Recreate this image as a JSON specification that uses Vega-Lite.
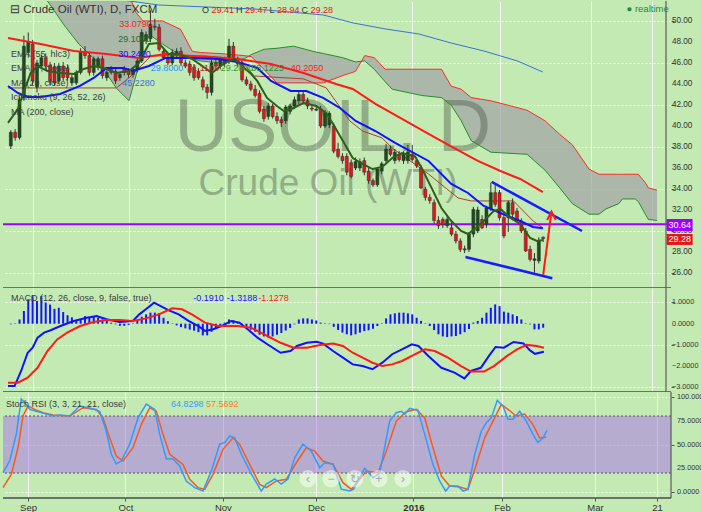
{
"$schema": "https://vega.github.io/schema/vega-lite/v6.json",
"background": "#c3eab3",
"padding": 0,
"spacing": 0,
"bounds": "flush",
"config": {
 "font": "Liberation Sans",
 "view": {"stroke": null, "fill": "#c3eab3"},
 "axis": {"labelFont": "Liberation Sans", "labelColor": "#333333", "labelFontSize": 9, "tickColor": "#555555", "tickSize": 3, "labelPadding": 1, "domain": false, "title": null, "labelLimit": 40},
 "concat": {"spacing": 0},
 "text": {"font": "Liberation Sans"}
},
"datasets": {
 "yt_main": [{"v":26},{"v":28},{"v":30},{"v":32},{"v":34},{"v":36},{"v":38},{"v":40},{"v":42},{"v":44},{"v":46},{"v":48},{"v":50}],
 "yt_macd": [{"v":1},{"v":0},{"v":-1},{"v":-2},{"v":-3}],
 "yt_st": [{"v":0},{"v":25},{"v":50},{"v":75},{"v":100}],
 "ohlc": [
 {"i":-5,"o":38.1,"h":39.6,"l":37.8,"c":39.4},{"i":-4,"o":39.4,"h":39.7,"l":38.6,"c":38.9},{"i":-3,"o":38.9,"h":42.8,"l":38.7,"c":42.5},{"i":-2,"o":42.7,"h":48.6,"l":42.4,"c":47.6},{"i":-1,"o":47.0,"h":48.9,"l":46.5,"c":48.0},
 {"i":0,"o":47.8,"h":48.2,"l":43.9,"c":44.3},{"i":1,"o":43.7,"h":46.3,"l":43.2,"c":46.0},{"i":2,"o":45.7,"h":46.8,"l":45.4,"c":46.5},{"i":3,"o":46.5,"h":46.9,"l":45.4,"c":45.7},{"i":4,"o":45.8,"h":46.1,"l":43.9,"c":44.2},
 {"i":5,"o":45.6,"h":46.0,"l":43.8,"c":44.1},{"i":6,"o":44.3,"h":46.0,"l":44.0,"c":45.7},{"i":7,"o":45.7,"h":46.1,"l":44.3,"c":44.6},{"i":8,"o":45.5,"h":45.8,"l":44.3,"c":44.6},{"i":9,"o":44.1,"h":44.9,"l":43.8,"c":44.6},
 {"i":10,"o":44.1,"h":45.3,"l":43.9,"c":45.1},{"i":11,"o":45.1,"h":47.4,"l":44.9,"c":47.1},{"i":12,"o":47.1,"h":47.6,"l":46.4,"c":46.7},{"i":13,"o":46.7,"h":47.0,"l":44.8,"c":45.1},{"i":14,"o":45.1,"h":46.6,"l":44.8,"c":46.4},
 {"i":15,"o":45.6,"h":46.6,"l":45.3,"c":46.4},{"i":16,"o":46.4,"h":46.7,"l":44.5,"c":44.8},{"i":17,"o":44.6,"h":45.3,"l":44.3,"c":45.1},{"i":18,"o":45.4,"h":45.7,"l":44.9,"c":45.1},{"i":19,"o":45.2,"h":45.5,"l":44.0,"c":44.3},
 {"i":20,"o":44.6,"h":45.1,"l":44.3,"c":44.9},{"i":21,"o":45.4,"h":45.7,"l":44.8,"c":45.1},{"i":22,"o":45.2,"h":45.5,"l":44.6,"c":44.9},{"i":23,"o":44.9,"h":45.6,"l":44.6,"c":45.4},{"i":24,"o":45.4,"h":46.5,"l":45.1,"c":46.2},
 {"i":25,"o":46.2,"h":49.2,"l":46.0,"c":48.9},{"i":26,"o":48.1,"h":49.0,"l":47.8,"c":48.7},{"i":27,"o":48.3,"h":51.0,"l":48.0,"c":49.7},{"i":28,"o":49.5,"h":50.2,"l":49.1,"c":49.4},{"i":29,"o":49.4,"h":49.7,"l":47.1,"c":47.3},
 {"i":30,"o":47.1,"h":47.5,"l":46.3,"c":46.5},{"i":31,"o":46.5,"h":46.9,"l":45.8,"c":46.0},{"i":32,"o":46.0,"h":47.3,"l":45.8,"c":47.0},{"i":33,"o":46.7,"h":47.4,"l":46.4,"c":47.1},{"i":34,"o":47.1,"h":47.5,"l":45.8,"c":46.0},
 {"i":35,"o":46.0,"h":46.3,"l":45.5,"c":45.7},{"i":36,"o":45.9,"h":46.2,"l":44.8,"c":45.1},{"i":37,"o":45.6,"h":45.9,"l":44.3,"c":44.6},{"i":38,"o":45.2,"h":45.5,"l":44.4,"c":44.6},{"i":39,"o":44.4,"h":44.7,"l":43.4,"c":43.7},
 {"i":40,"o":43.7,"h":44.0,"l":42.6,"c":43.2},{"i":41,"o":43.2,"h":46.3,"l":42.9,"c":46.0},{"i":42,"o":46.0,"h":46.4,"l":45.4,"c":45.7},{"i":43,"o":45.7,"h":46.6,"l":45.4,"c":46.4},{"i":44,"o":45.9,"h":46.6,"l":45.6,"c":46.4},
 {"i":45,"o":46.2,"h":48.3,"l":45.9,"c":47.6},{"i":46,"o":47.6,"h":48.0,"l":46.1,"c":46.4},{"i":47,"o":46.4,"h":46.6,"l":45.6,"c":45.9},{"i":48,"o":46.0,"h":46.2,"l":44.2,"c":44.4},{"i":49,"o":44.4,"h":44.7,"l":43.8,"c":44.0},
 {"i":50,"o":44.0,"h":44.3,"l":43.3,"c":43.5},{"i":51,"o":43.5,"h":43.9,"l":42.7,"c":42.9},{"i":52,"o":43.1,"h":43.4,"l":41.2,"c":41.4},{"i":53,"o":41.6,"h":41.9,"l":40.4,"c":40.7},{"i":54,"o":40.9,"h":42.2,"l":40.6,"c":41.9},
 {"i":55,"o":41.9,"h":42.1,"l":40.7,"c":40.9},{"i":56,"o":40.9,"h":41.3,"l":40.2,"c":40.5},{"i":57,"o":40.6,"h":40.9,"l":39.9,"c":40.3},{"i":58,"o":40.5,"h":42.0,"l":40.2,"c":41.8},{"i":59,"o":41.4,"h":42.1,"l":41.1,"c":41.9},
 {"i":60,"o":41.9,"h":42.8,"l":41.6,"c":42.5},{"i":61,"o":42.4,"h":43.4,"l":42.1,"c":43.0},{"i":62,"o":43.0,"h":43.3,"l":42.1,"c":42.4},{"i":63,"o":42.4,"h":42.7,"l":41.6,"c":41.9},{"i":64,"o":41.7,"h":41.9,"l":41.4,"c":41.6},
 {"i":65,"o":41.6,"h":41.8,"l":41.4,"c":41.5},{"i":66,"o":41.6,"h":41.9,"l":39.8,"c":40.0},{"i":67,"o":40.0,"h":41.5,"l":39.8,"c":41.3},{"i":68,"o":40.1,"h":41.4,"l":39.8,"c":41.2},{"i":69,"o":40.0,"h":40.3,"l":37.4,"c":37.6},
 {"i":70,"o":37.8,"h":38.4,"l":36.9,"c":37.1},{"i":71,"o":37.1,"h":37.4,"l":36.4,"c":36.7},{"i":72,"o":37.1,"h":37.4,"l":35.3,"c":35.6},{"i":73,"o":36.5,"h":36.8,"l":35.0,"c":35.2},{"i":74,"o":36.0,"h":37.0,"l":35.8,"c":36.6},
 {"i":75,"o":36.0,"h":36.9,"l":35.7,"c":36.6},{"i":76,"o":36.7,"h":37.0,"l":35.3,"c":35.6},{"i":77,"o":35.7,"h":36.0,"l":34.5,"c":34.8},{"i":78,"o":34.8,"h":35.0,"l":34.2,"c":34.4},{"i":79,"o":34.4,"h":36.1,"l":34.2,"c":35.9},
 {"i":80,"o":35.7,"h":36.6,"l":35.4,"c":36.4},{"i":81,"o":36.7,"h":38.3,"l":36.4,"c":37.8},{"i":82,"o":37.8,"h":38.1,"l":37.1,"c":37.3},{"i":83,"o":36.7,"h":37.8,"l":36.4,"c":37.5},{"i":84,"o":37.3,"h":37.6,"l":36.6,"c":36.8},
 {"i":85,"o":36.7,"h":37.6,"l":36.4,"c":37.3},{"i":86,"o":36.7,"h":38.2,"l":36.4,"c":37.5},{"i":87,"o":37.3,"h":38.2,"l":36.6,"c":36.8},{"i":88,"o":36.7,"h":37.0,"l":36.0,"c":36.2},{"i":89,"o":36.0,"h":36.3,"l":34.0,"c":34.1},
 {"i":90,"o":33.97,"h":34.2,"l":32.9,"c":33.2},{"i":91,"o":33.2,"h":33.5,"l":32.6,"c":32.9},{"i":92,"o":32.7,"h":33.0,"l":30.7,"c":31.0},{"i":93,"o":31.0,"h":31.4,"l":30.2,"c":30.5},{"i":94,"o":31.1,"h":31.3,"l":30.3,"c":30.6},
 {"i":95,"o":30.5,"h":31.5,"l":30.3,"c":31.1},{"i":96,"o":30.3,"h":30.9,"l":29.5,"c":29.7},{"i":97,"o":29.7,"h":30.0,"l":28.8,"c":29.05},{"i":98,"o":29.05,"h":29.3,"l":28.0,"c":28.25},{"i":99,"o":28.2,"h":28.6,"l":27.9,"c":28.3},
 {"i":100,"o":28.25,"h":29.9,"l":28.0,"c":29.7},{"i":101,"o":29.7,"h":32.3,"l":29.4,"c":32.06},{"i":102,"o":30.0,"h":32.3,"l":29.8,"c":32.0},{"i":103,"o":31.1,"h":31.5,"l":30.2,"c":30.3},{"i":104,"o":30.6,"h":32.4,"l":30.3,"c":32.2},
 {"i":105,"o":32.1,"h":34.6,"l":31.9,"c":33.65},{"i":106,"o":33.65,"h":34.4,"l":32.3,"c":32.54},{"i":107,"o":33.65,"h":33.9,"l":31.0,"c":31.27},{"i":108,"o":31.27,"h":31.5,"l":29.3,"c":29.52},{"i":109,"o":31.27,"h":32.9,"l":29.9,"c":32.7},
 {"i":110,"o":32.7,"h":33.1,"l":31.3,"c":31.6},{"i":111,"o":31.9,"h":32.2,"l":30.8,"c":30.95},{"i":112,"o":30.95,"h":31.2,"l":29.8,"c":30.0},{"i":113,"o":30.0,"h":30.3,"l":28.0,"c":28.1},{"i":114,"o":28.25,"h":28.6,"l":27.1,"c":27.3},
 {"i":115,"o":27.2,"h":27.9,"l":26.03,"c":27.35},{"i":116,"o":27.14,"h":29.4,"l":26.9,"c":29.05},{"i":117,"o":29.41,"h":29.47,"l":28.94,"c":29.28}
 ],
 "cloud": [
 {"i":-5.64,"a":54,"b":54},{"i":3.4,"a":51.9,"b":54},{"i":7.4,"a":49.5,"b":54},{"i":10.6,"a":47.8,"b":54},{"i":15.8,"a":45.7,"b":54},{"i":19.2,"a":43.6,"b":54},{"i":22.1,"a":42.4,"b":52.5},{"i":23.7,"a":44.8,"b":50.8},{"i":25.3,"a":48.1,"b":50.0},{"i":27.1,"a":48.6,"b":50.0},{"i":29.8,"a":47.8,"b":50.0},{"i":33.9,"a":46.7,"b":49.2},{"i":36.6,"a":46.4,"b":47.1},{"i":38.4,"a":46.2,"b":47.0},{"i":42.9,"a":46.0,"b":46.9},{"i":48.5,"a":46.4,"b":46.7},{"i":50.1,"a":46.8,"b":46.6},{"i":53,"a":47.3,"b":45.4},{"i":56,"a":47.4,"b":44.1},{"i":59.8,"a":47.6,"b":44.1},{"i":64.3,"a":47.1,"b":44.1},{"i":66.6,"a":46.9,"b":44.1},{"i":71.1,"a":46.5,"b":44.8},{"i":74,"a":46.1,"b":45.2},{"i":76.1,"a":46.2,"b":46.7},{"i":78.3,"a":45.4,"b":46.5},{"i":80.8,"a":44.2,"b":45.4},{"i":82.4,"a":43.5,"b":45.4},{"i":89.2,"a":42.9,"b":45.4},{"i":93.7,"a":42.7,"b":45.4},{"i":95.9,"a":42.0,"b":43.8},{"i":98.2,"a":40.5,"b":43.5},{"i":100.5,"a":38.6,"b":42.7},{"i":105,"a":37.5,"b":42.4},{"i":113.3,"a":37.3,"b":41.5},{"i":117.4,"a":35.8,"b":40.5},{"i":120.8,"a":34.1,"b":39.2},{"i":123.7,"a":32.6,"b":38.2},{"i":127.5,"a":31.6,"b":35.9},{"i":129.8,"a":31.6,"b":35.4},{"i":131.4,"a":32.1,"b":35.4},{"i":134.3,"a":32.6,"b":35.4},{"i":135.2,"a":33.05,"b":35.4},{"i":138.1,"a":33.05,"b":35.4},{"i":138.8,"a":32.8,"b":35.4},{"i":140.4,"a":31.6,"b":34.6},{"i":141.1,"a":31.1,"b":34.1},{"i":143.1,"a":31.0,"b":33.9}
 ],
 "ema7": [
 {"i":-5.64,"v":40.29},{"i":-3.39,"v":41.62},{"i":-1.81,"v":43.52},{"i":-0.45,"v":45.05},{"i":1.13,"v":45.71},{"i":3.39,"v":45.24},{"i":6.32,"v":45.05},{"i":9.48,"v":44.95},{"i":11.74,"v":45.43},{"i":14.0,"v":45.71},{"i":16.25,"v":45.52},{"i":19.19,"v":45.05},{"i":22.12,"v":45.24},{"i":24.38,"v":46.0},{"i":26.64,"v":47.81},{"i":28.89,"v":47.9},{"i":31.15,"v":46.86},{"i":33.41,"v":46.86},{"i":36.57,"v":46.38},{"i":39.5,"v":45.52},{"i":41.08,"v":45.05},{"i":44.0,"v":46.0},{"i":46.28,"v":46.38},{"i":48.53,"v":45.52},{"i":50.11,"v":44.95},{"i":51.47,"v":44.29},{"i":53.72,"v":42.67},{"i":55.98,"v":41.9},{"i":57.56,"v":41.43},{"i":59.82,"v":41.71},{"i":62.08,"v":42.19},{"i":65.01,"v":41.9},{"i":67.27,"v":41.24},{"i":68.85,"v":40.19},{"i":71.11,"v":38.57},{"i":73.36,"v":36.95},{"i":75.62,"v":36.38},{"i":77.88,"v":35.9},{"i":80.14,"v":36.1},{"i":82.39,"v":36.95},{"i":84.65,"v":37.43},{"i":87.58,"v":37.14},{"i":89.16,"v":36.0},{"i":91.42,"v":34.1},{"i":93.68,"v":32.19},{"i":95.94,"v":30.95},{"i":98.19,"v":30.0},{"i":99.77,"v":29.71},{"i":101.58,"v":30.29},{"i":103.39,"v":30.95},{"i":105.64,"v":31.9},{"i":107.22,"v":32.1},{"i":109.48,"v":31.24},{"i":111.74,"v":30.67},{"i":114.0,"v":29.33},{"i":115.58,"v":29.05},{"i":116.93,"v":29.15}
 ],
 "ma20": [
 {"i":-5.64,"v":43.81},{"i":-3.39,"v":43.14},{"i":-1.13,"v":42.76},{"i":1.81,"v":42.76},{"i":6.32,"v":43.05},{"i":10.84,"v":43.81},{"i":14.0,"v":44.57},{"i":16.93,"v":45.52},{"i":20.77,"v":45.52},{"i":23.02,"v":45.24},{"i":26.64,"v":45.71},{"i":30.47,"v":46.48},{"i":36.57,"v":46.48},{"i":42.44,"v":46.38},{"i":46.95,"v":46.1},{"i":51.47,"v":45.52},{"i":54.63,"v":44.29},{"i":59.14,"v":43.33},{"i":62.75,"v":43.33},{"i":66.59,"v":42.67},{"i":70.43,"v":41.71},{"i":74.04,"v":40.48},{"i":78.56,"v":39.52},{"i":83.07,"v":38.4},{"i":90.74,"v":36.67},{"i":95.94,"v":34.48},{"i":99.77,"v":33.62},{"i":103.39,"v":32.38},{"i":107.22,"v":31.71},{"i":111.74,"v":30.95},{"i":114.67,"v":30.38},{"i":116.93,"v":30.26}
 ],
 "ema55": [
 {"i":-5.64,"v":48.38},{"i":1.81,"v":47.81},{"i":9.48,"v":47.14},{"i":16.93,"v":46.86},{"i":24.38,"v":46.48},{"i":30.47,"v":46.86},{"i":36.57,"v":46.67},{"i":46.95,"v":46.38},{"i":54.63,"v":45.9},{"i":62.08,"v":45.05},{"i":69.53,"v":44.0},{"i":73.36,"v":43.52},{"i":78.56,"v":42.1},{"i":84.65,"v":40.67},{"i":90.74,"v":39.24},{"i":96.61,"v":37.9},{"i":102.03,"v":36.67},{"i":107.22,"v":35.71},{"i":111.74,"v":34.95},{"i":116.93,"v":33.7}
 ],
 "ma200": [
 {"i":10,"v":52.6},{"i":28.9,"v":51.52},{"i":50.8,"v":51.14},{"i":66.6,"v":50.57},{"i":73.4,"v":49.81},{"i":80.8,"v":49.24},{"i":88.5,"v":48.76},{"i":95.9,"v":47.9},{"i":103.4,"v":47.14},{"i":111.1,"v":46.19},{"i":116.9,"v":45.14}
 ],
 "kijun": [
 {"i":-5.64,"v":43.62},{"i":19.2,"v":43.62},{"i":22.6,"v":44.76},{"i":27.1,"v":46.67},{"i":39.5,"v":46.67},{"i":47.4,"v":46.38},{"i":50.8,"v":44.76},{"i":62.1,"v":44.48},{"i":67.3,"v":43.62},{"i":72.7,"v":40.48},{"i":75.6,"v":39.52},{"i":80.1,"v":38.86},{"i":82.4,"v":37.9},{"i":90.7,"v":35.43},{"i":97.5,"v":33.14},{"i":100.5,"v":32.86},{"i":110.2,"v":32.86},{"i":114.7,"v":30.95},{"i":116.9,"v":30.29}
 ],
 "trend": [
 {"seg":"upper","i":105.2,"v":34.67},{"seg":"upper","i":125.9,"v":30.0},{"seg":"lower","i":99.2,"v":27.52},{"seg":"lower","i":119.1,"v":25.5}
 ],
 "arrow": [
 {"seg":"shaft","i":117.0,"v":25.81},{"seg":"shaft","i":118.9,"v":31.84},{"seg":"head","i":117.9,"v":31.05},{"seg":"head","i":118.9,"v":31.84},{"seg":"head","i":119.9,"v":31.05}
 ],
 "hist": [
 {"i":-5,"h":-0.03},{"i":-4,"h":0.02},{"i":-3,"h":0.2},{"i":-2,"h":0.6},{"i":-1,"h":1.15},{"i":0,"h":1.3},{"i":1,"h":1.07},{"i":2,"h":1.3},{"i":3,"h":1.0},{"i":4,"h":0.9},{"i":5,"h":0.7},{"i":6,"h":0.75},{"i":7,"h":0.55},{"i":8,"h":0.4},{"i":9,"h":0.3},{"i":10,"h":0.15},{"i":11,"h":0.2},{"i":12,"h":0.36},{"i":13,"h":0.3},{"i":14,"h":0.36},{"i":15,"h":0.28},{"i":16,"h":0.2},{"i":17,"h":0.15},{"i":18,"h":0.05},{"i":19,"h":-0.03},{"i":20,"h":-0.1},{"i":21,"h":-0.1},{"i":22,"h":-0.06},{"i":23,"h":0.02},{"i":24,"h":0.15},{"i":25,"h":0.33},{"i":26,"h":0.44},{"i":27,"h":0.52},{"i":28,"h":0.52},{"i":29,"h":0.5},{"i":30,"h":0.28},{"i":31,"h":0.12},{"i":32,"h":0.02},{"i":33,"h":-0.08},{"i":34,"h":-0.16},{"i":35,"h":-0.22},{"i":36,"h":-0.28},{"i":37,"h":-0.33},{"i":38,"h":-0.4},{"i":39,"h":-0.55},{"i":40,"h":-0.55},{"i":41,"h":-0.38},{"i":42,"h":-0.2},{"i":43,"h":-0.11},{"i":44,"h":0.05},{"i":45,"h":0.2},{"i":46,"h":0.16},{"i":47,"h":0.08},{"i":48,"h":-0.05},{"i":49,"h":-0.2},{"i":50,"h":-0.28},{"i":51,"h":-0.38},{"i":52,"h":-0.52},{"i":53,"h":-0.6},{"i":54,"h":-0.65},{"i":55,"h":-0.6},{"i":56,"h":-0.52},{"i":57,"h":-0.44},{"i":58,"h":-0.32},{"i":59,"h":-0.2},{"i":60,"h":-0.03},{"i":61,"h":0.2},{"i":62,"h":0.25},{"i":63,"h":0.25},{"i":64,"h":0.2},{"i":65,"h":0.15},{"i":66,"h":0.05},{"i":67,"h":0.02},{"i":68,"h":-0.02},{"i":69,"h":-0.15},{"i":70,"h":-0.3},{"i":71,"h":-0.42},{"i":72,"h":-0.5},{"i":73,"h":-0.55},{"i":74,"h":-0.5},{"i":75,"h":-0.42},{"i":76,"h":-0.35},{"i":77,"h":-0.31},{"i":78,"h":-0.24},{"i":79,"h":-0.11},{"i":80,"h":0.02},{"i":81,"h":0.25},{"i":82,"h":0.44},{"i":83,"h":0.49},{"i":84,"h":0.52},{"i":85,"h":0.52},{"i":86,"h":0.49},{"i":87,"h":0.44},{"i":88,"h":0.28},{"i":89,"h":0.13},{"i":90,"h":0.02},{"i":91,"h":-0.11},{"i":92,"h":-0.3},{"i":93,"h":-0.5},{"i":94,"h":-0.6},{"i":95,"h":-0.63},{"i":96,"h":-0.6},{"i":97,"h":-0.58},{"i":98,"h":-0.5},{"i":99,"h":-0.4},{"i":100,"h":-0.25},{"i":101,"h":0.05},{"i":102,"h":0.13},{"i":103,"h":0.28},{"i":104,"h":0.52},{"i":105,"h":0.75},{"i":106,"h":0.91},{"i":107,"h":0.83},{"i":108,"h":0.57},{"i":109,"h":0.52},{"i":110,"h":0.44},{"i":111,"h":0.36},{"i":112,"h":0.2},{"i":113,"h":0.02},{"i":114,"h":-0.03},{"i":115,"h":-0.27},{"i":116,"h":-0.27},{"i":117,"h":-0.19}
 ],
 "macd": [
 {"i":-5.64,"v":-2.94},{"i":-4.13,"v":-2.94},{"i":-2.64,"v":-2.23},{"i":-1.13,"v":-1.37},{"i":0,"v":-1.13},{"i":1.13,"v":-0.66},{"i":2.64,"v":-0.42},{"i":4.13,"v":-0.31},{"i":6.39,"v":-0.11},{"i":9.41,"v":0.13},{"i":12.42,"v":0.28},{"i":14.67,"v":0.36},{"i":16.93,"v":0.21},{"i":19.93,"v":0.08},{"i":22.96,"v":0.13},{"i":24.45,"v":0.44},{"i":25.96,"v":0.68},{"i":27.83,"v":0.99},{"i":29.35,"v":0.83},{"i":31.22,"v":0.63},{"i":33.48,"v":0.44},{"i":35.73,"v":0.13},{"i":37.99,"v":-0.11},{"i":39.5,"v":-0.34},{"i":41.38,"v":-0.26},{"i":43.27,"v":-0.11},{"i":45.53,"v":0.13},{"i":47.4,"v":0.05},{"i":49.28,"v":-0.26},{"i":51.53,"v":-0.66},{"i":53.79,"v":-0.97},{"i":56.82,"v":-1.37},{"i":59.07,"v":-1.29},{"i":60.56,"v":-1.05},{"i":62.82,"v":-0.9},{"i":65.08,"v":-0.85},{"i":66.59,"v":-0.94},{"i":68.85,"v":-1.29},{"i":71.11,"v":-1.6},{"i":73.36,"v":-1.92},{"i":75.62,"v":-2.0},{"i":77.88,"v":-2.15},{"i":80.14,"v":-1.84},{"i":82.39,"v":-1.44},{"i":84.65,"v":-1.21},{"i":86.91,"v":-0.97},{"i":88.42,"v":-1.05},{"i":90.68,"v":-1.52},{"i":93.68,"v":-2.08},{"i":96.68,"v":-2.31},{"i":98.94,"v":-2.58},{"i":100.45,"v":-2.23},{"i":102.71,"v":-2.08},{"i":104.58,"v":-1.52},{"i":106.09,"v":-1.1},{"i":107.97,"v":-1.13},{"i":110.23,"v":-0.86},{"i":112.48,"v":-0.93},{"i":113.99,"v":-1.26},{"i":115.12,"v":-1.42},{"i":117.16,"v":-1.32}
 ],
 "signal": [
 {"i":-5.64,"v":-2.78},{"i":-3.39,"v":-2.78},{"i":-1.13,"v":-2.55},{"i":1.13,"v":-2.08},{"i":3.39,"v":-1.29},{"i":5.64,"v":-0.74},{"i":7.9,"v":-0.42},{"i":10.9,"v":-0.11},{"i":13.93,"v":0.08},{"i":16.93,"v":0.17},{"i":19.93,"v":0.17},{"i":22.96,"v":0.13},{"i":25.96,"v":0.25},{"i":28.96,"v":0.44},{"i":31.99,"v":0.73},{"i":34.24,"v":0.68},{"i":36.5,"v":0.44},{"i":39.5,"v":0.05},{"i":42.51,"v":-0.11},{"i":47.02,"v":-0.11},{"i":50.05,"v":-0.19},{"i":53.79,"v":-0.58},{"i":56.82,"v":-0.9},{"i":59.82,"v":-1.13},{"i":62.82,"v":-1.13},{"i":65.85,"v":-1.0},{"i":68.85,"v":-0.94},{"i":71.11,"v":-1.05},{"i":73.36,"v":-1.37},{"i":75.62,"v":-1.6},{"i":77.88,"v":-1.84},{"i":80.14,"v":-2.0},{"i":82.39,"v":-1.92},{"i":84.65,"v":-1.76},{"i":86.91,"v":-1.52},{"i":89.91,"v":-1.21},{"i":92.17,"v":-1.29},{"i":95.19,"v":-1.6},{"i":98.19,"v":-2.0},{"i":100.45,"v":-2.26},{"i":103.45,"v":-2.26},{"i":105.71,"v":-2.0},{"i":108.74,"v":-1.52},{"i":110.99,"v":-1.21},{"i":113.25,"v":-1.0},{"i":115.5,"v":-1.05},{"i":117.16,"v":-1.13}
 ],
 "stk": [
 {"i":-5.64,"v":20.3},{"i":-4.13,"v":32.6},{"i":-2.64,"v":61},{"i":-1.51,"v":98},{"i":-0.74,"v":94},{"i":0.38,"v":87},{"i":1.87,"v":85},{"i":4.13,"v":82},{"i":5.64,"v":80},{"i":7.16,"v":81},{"i":9.41,"v":80},{"i":11.67,"v":90.5},{"i":13.93,"v":88.4},{"i":16.19,"v":85},{"i":17.67,"v":64},{"i":18.8,"v":40},{"i":19.93,"v":29.5},{"i":21.06,"v":32.6},{"i":22.96,"v":50.5},{"i":24.83,"v":78},{"i":26.7,"v":92.6},{"i":28.6,"v":87},{"i":29.73,"v":61},{"i":31.22,"v":34.7},{"i":32.73,"v":34.7},{"i":34.24,"v":27.4},{"i":35.73,"v":11.6},{"i":37.63,"v":4.6},{"i":39.5,"v":1},{"i":41.38,"v":22},{"i":43.27,"v":50.5},{"i":44.4,"v":52},{"i":45.53,"v":59},{"i":46.66,"v":57},{"i":48.15,"v":40},{"i":50.41,"v":19},{"i":52.66,"v":1},{"i":53.79,"v":8.4},{"i":55.69,"v":13.7},{"i":57.18,"v":8.4},{"i":58.69,"v":13.7},{"i":60.2,"v":36},{"i":62.08,"v":50.5},{"i":63.95,"v":43},{"i":65.85,"v":25.6},{"i":66.98,"v":30.8},{"i":68.85,"v":29.5},{"i":70.72,"v":3},{"i":72.62,"v":1},{"i":73.5,"v":3},{"i":76.0,"v":25},{"i":77.88,"v":15},{"i":79.39,"v":20},{"i":81.65,"v":75},{"i":83.14,"v":83.5},{"i":84.27,"v":85},{"i":85.03,"v":82},{"i":86.16,"v":88},{"i":88.04,"v":86},{"i":89.55,"v":60.7},{"i":91.42,"v":29},{"i":92.93,"v":11.6},{"i":94.29,"v":1},{"i":95.19,"v":6.3},{"i":97.07,"v":6.3},{"i":98.19,"v":1},{"i":99.32,"v":2.8},{"i":100.84,"v":39.7},{"i":102.33,"v":64},{"i":103.45,"v":73},{"i":104.58,"v":78},{"i":105.94,"v":96.5},{"i":107.22,"v":90.5},{"i":108.35,"v":76.5},{"i":109.48,"v":76.5},{"i":111.0,"v":85},{"i":112.48,"v":74.7},{"i":113.99,"v":60.7},{"i":115.12,"v":52},{"i":116.25,"v":57},{"i":117.16,"v":64.8}
 ],
 "std": [
 {"i":-5.64,"v":4.6},{"i":-3.77,"v":18.6},{"i":-2.26,"v":46.6},{"i":-1.13,"v":80},{"i":0,"v":90.5},{"i":1.51,"v":87},{"i":3.39,"v":83.5},{"i":5.64,"v":81},{"i":9.41,"v":80},{"i":12.42,"v":88.8},{"i":15.42,"v":87},{"i":16.93,"v":78},{"i":18.44,"v":57},{"i":19.93,"v":38},{"i":21.44,"v":32.6},{"i":23.7,"v":46.6},{"i":25.58,"v":71},{"i":27.47,"v":88.8},{"i":28.96,"v":85},{"i":30.47,"v":60.7},{"i":31.99,"v":39.7},{"i":33.48,"v":34.4},{"i":34.99,"v":29},{"i":36.5,"v":13.4},{"i":38.37,"v":4.6},{"i":39.89,"v":2.8},{"i":41.76,"v":18.6},{"i":44.02,"v":45},{"i":46.28,"v":57},{"i":47.79,"v":50},{"i":50.05,"v":29},{"i":52.3,"v":8},{"i":53.79,"v":4.6},{"i":56.05,"v":11.6},{"i":58.31,"v":13.4},{"i":60.56,"v":30.8},{"i":62.82,"v":46.6},{"i":64.72,"v":43},{"i":66.59,"v":32.6},{"i":68.85,"v":29},{"i":71.11,"v":9.8},{"i":72.98,"v":2.8},{"i":76.37,"v":22},{"i":79.0,"v":20.3},{"i":80.88,"v":43},{"i":83.14,"v":74.7},{"i":85.4,"v":84.5},{"i":87.65,"v":87},{"i":89.55,"v":78},{"i":91.42,"v":46.6},{"i":93.3,"v":16.8},{"i":95.19,"v":6.3},{"i":97.45,"v":5.3},{"i":99.32,"v":2.8},{"i":101.2,"v":29},{"i":103.09,"v":57},{"i":104.97,"v":74.7},{"i":106.84,"v":92.3},{"i":108.35,"v":87},{"i":110.23,"v":80},{"i":112.12,"v":82},{"i":113.99,"v":71},{"i":115.5,"v":57},{"i":117.0,"v":57.6}
 ]
},
"vconcat": [
 {
 "width": 668, "height": 287,
 "layer": [
  {"data": {"name": "cloud"}, "mark": {"type": "area", "color": "#a2a6a6", "opacity": 0.75, "clip": true},
   "encoding": {
    "x": {"field": "i", "type": "quantitative", "scale": {"domain": [-5.643, 145.147], "nice": false, "zero": false}, "axis": {"values": [0,22,44,65,87,107,128,142], "labels": false, "ticks": false, "grid": true, "gridColor": "#ffffff", "gridOpacity": 0.85}},
    "y": {"field": "a", "type": "quantitative", "scale": {"domain": [24.57, 51.9], "nice": false, "zero": false}, "axis": {"orient": "right", "values": [26,28,30,32,34,36,38,40,42,44,46,48,50], "labels": false, "grid": true, "gridColor": "#ffffff", "gridDash": [2,2], "gridOpacity": 0.8}},
    "y2": {"field": "b"}}},
  {"data": {"name": "yt_main"}, "mark": {"type": "text", "fontSize": 8.2, "align": "left", "baseline": "middle", "color": "#333333"},
   "encoding": {"x": {"datum": 146.5}, "y": {"field": "v", "type": "quantitative"}, "text": {"field": "v", "type": "quantitative", "format": ".2f"}}},
  {"data": {"values": [{}]}, "mark": {"type": "text", "text": "USOIL, D", "fontSize": 74, "align": "center", "baseline": "alphabetic", "color": "#4d5a4a", "opacity": 0.42},
   "encoding": {"x": {"datum": 68.8}, "y": {"datum": 37.62}}},
  {"data": {"values": [{}]}, "mark": {"type": "text", "text": "Crude Oil (WTI)", "fontSize": 37, "align": "center", "baseline": "alphabetic", "color": "#4d5a4a", "opacity": 0.42},
   "encoding": {"x": {"datum": 67.7}, "y": {"datum": 33.43}}},
  {"data": {"name": "cloud"}, "mark": {"type": "line", "color": "#2a8c2a", "strokeWidth": 1, "clip": true},
   "encoding": {"x": {"field": "i", "type": "quantitative"}, "y": {"field": "a", "type": "quantitative"}}},
  {"data": {"name": "cloud"}, "mark": {"type": "line", "color": "#ff2a2a", "strokeWidth": 1, "clip": true},
   "encoding": {"x": {"field": "i", "type": "quantitative"}, "y": {"field": "b", "type": "quantitative"}}},
  {"data": {"name": "kijun"}, "mark": {"type": "line", "color": "#a8402c", "strokeWidth": 1, "clip": true},
   "encoding": {"x": {"field": "i", "type": "quantitative"}, "y": {"field": "v", "type": "quantitative"}}},
  {"data": {"name": "ma200"}, "mark": {"type": "line", "color": "#3d6fd6", "strokeWidth": 1, "clip": true},
   "encoding": {"x": {"field": "i", "type": "quantitative"}, "y": {"field": "v", "type": "quantitative"}}},
  {"data": {"values": [{}]}, "mark": {"type": "rule", "color": "#9d00ff", "strokeWidth": 2},
   "encoding": {"y": {"datum": 30.64}}},
  {"data": {"name": "ohlc"}, "mark": {"type": "rule", "color": "#333333", "strokeWidth": 1},
   "encoding": {"x": {"field": "i", "type": "quantitative"}, "y": {"field": "l", "type": "quantitative"}, "y2": {"field": "h"}}},
  {"data": {"name": "ohlc"}, "mark": {"type": "bar", "width": 3, "stroke": "#2a2a2a", "strokeWidth": 0.5},
   "encoding": {"x": {"field": "i", "type": "quantitative"}, "y": {"field": "o", "type": "quantitative"}, "y2": {"field": "c"},
    "color": {"condition": {"test": "datum.c >= datum.o", "value": "#1b4d1b"}, "value": "#e8141a"}}},
  {"data": {"name": "ema55"}, "mark": {"type": "line", "color": "#ff1a1a", "strokeWidth": 2, "clip": true},
   "encoding": {"x": {"field": "i", "type": "quantitative"}, "y": {"field": "v", "type": "quantitative"}}},
  {"data": {"name": "ma20"}, "mark": {"type": "line", "color": "#1010ff", "strokeWidth": 2, "clip": true},
   "encoding": {"x": {"field": "i", "type": "quantitative"}, "y": {"field": "v", "type": "quantitative"}}},
  {"data": {"name": "ema7"}, "mark": {"type": "line", "color": "#2d5e1a", "strokeWidth": 2, "clip": true},
   "encoding": {"x": {"field": "i", "type": "quantitative"}, "y": {"field": "v", "type": "quantitative"}}},
  {"data": {"name": "trend"}, "mark": {"type": "line", "color": "#1a1aff", "strokeWidth": 2.5},
   "encoding": {"x": {"field": "i", "type": "quantitative"}, "y": {"field": "v", "type": "quantitative"}, "detail": {"field": "seg"}}},
  {"data": {"name": "arrow"}, "mark": {"type": "line", "color": "#ff1a1a", "strokeWidth": 2},
   "encoding": {"x": {"field": "i", "type": "quantitative"}, "y": {"field": "v", "type": "quantitative"}, "detail": {"field": "seg"}}},
  {"data": {"values": [{}]}, "mark": {"type": "rule", "color": "#4d4d4d", "strokeWidth": 1.4}, "encoding": {"y": {"datum": 24.57}}},
  {"data": {"values": [{}]}, "mark": {"type": "rule", "color": "#5a5a5a", "strokeWidth": 1.2}, "encoding": {"x": {"datum": 145.147}}},
  {"data": {"values": [{}]}, "mark": {"type": "text", "text": "⊟ Crude Oil (WTI), D, FXCM", "fontSize": 11.5, "align": "left", "baseline": "middle", "color": "#333333"},
   "encoding": {"x": {"datum": -5.19}, "y": {"datum": 51.05}}},
  {"data": {"values": [{}]}, "mark": {"type": "text", "text": "O", "fontSize": 9, "align": "left", "baseline": "middle", "color": "#333333"}, "encoding": {"x": {"datum": 38.83}, "y": {"datum": 51.05}}},
  {"data": {"values": [{}]}, "mark": {"type": "text", "text": "29.41", "fontSize": 9, "align": "left", "baseline": "middle", "color": "#e8141a"}, "encoding": {"x": {"datum": 40.97}, "y": {"datum": 51.05}}},
  {"data": {"values": [{}]}, "mark": {"type": "text", "text": "H", "fontSize": 9, "align": "left", "baseline": "middle", "color": "#333333"}, "encoding": {"x": {"datum": 46.61}, "y": {"datum": 51.05}}},
  {"data": {"values": [{}]}, "mark": {"type": "text", "text": "29.47", "fontSize": 9, "align": "left", "baseline": "middle", "color": "#e8141a"}, "encoding": {"x": {"datum": 48.65}, "y": {"datum": 51.05}}},
  {"data": {"values": [{}]}, "mark": {"type": "text", "text": "L", "fontSize": 9, "align": "left", "baseline": "middle", "color": "#333333"}, "encoding": {"x": {"datum": 54.29}, "y": {"datum": 51.05}}},
  {"data": {"values": [{}]}, "mark": {"type": "text", "text": "28.94", "fontSize": 9, "align": "left", "baseline": "middle", "color": "#e8141a"}, "encoding": {"x": {"datum": 55.98}, "y": {"datum": 51.05}}},
  {"data": {"values": [{}]}, "mark": {"type": "text", "text": "C", "fontSize": 9, "align": "left", "baseline": "middle", "color": "#333333"}, "encoding": {"x": {"datum": 61.63}, "y": {"datum": 51.05}}},
  {"data": {"values": [{}]}, "mark": {"type": "text", "text": "29.28", "fontSize": 9, "align": "left", "baseline": "middle", "color": "#e8141a"}, "encoding": {"x": {"datum": 63.66}, "y": {"datum": 51.05}}},
  {"data": {"values": [{}]}, "mark": {"type": "text", "text": "● realtime", "fontSize": 9.5, "align": "left", "baseline": "middle", "color": "#1f8a3a"}, "encoding": {"x": {"datum": 136.1}, "y": {"datum": 51.14}}},
  {"data": {"values": [{}]}, "mark": {"type": "text", "text": "EMA (55, hlc3)\nEMA (7, close)\nMA (20, close)\nIchimoku (9, 26, 52, 26)\nMA (200, close)", "lineBreak": "\n", "lineHeight": 14.6, "fontSize": 9, "align": "left", "baseline": "middle", "color": "#3c3c3c"},
   "encoding": {"x": {"datum": -4.97}, "y": {"datum": 46.9}}},
  {"data": {"values": [{}]}, "mark": {"type": "text", "text": "33.0790", "fontSize": 9, "align": "left", "baseline": "middle", "color": "#ff1a1a"}, "encoding": {"x": {"datum": 19.86}, "y": {"datum": 49.69}}},
  {"data": {"values": [{}]}, "mark": {"type": "text", "text": "29.1000", "fontSize": 9, "align": "left", "baseline": "middle", "color": "#2d6e1a"}, "encoding": {"x": {"datum": 19.64}, "y": {"datum": 48.3}}},
  {"data": {"values": [{}]}, "mark": {"type": "text", "text": "30.2400", "fontSize": 9, "align": "left", "baseline": "middle", "color": "#1010ff"}, "encoding": {"x": {"datum": 19.64}, "y": {"datum": 46.9}}},
  {"data": {"values": [{}]}, "mark": {"type": "text", "text": "29.8000", "fontSize": 9, "align": "left", "baseline": "middle", "color": "#1e90ff"}, "encoding": {"x": {"datum": 27.09}, "y": {"datum": 45.51}}},
  {"data": {"values": [{}]}, "mark": {"type": "text", "text": "31.1100", "fontSize": 9, "align": "left", "baseline": "middle", "color": "#c0282a"}, "encoding": {"x": {"datum": 35.44}, "y": {"datum": 45.51}}},
  {"data": {"values": [{}]}, "mark": {"type": "text", "text": "29.2800", "fontSize": 9, "align": "left", "baseline": "middle", "color": "#3a9a1a"}, "encoding": {"x": {"datum": 43.12}, "y": {"datum": 45.51}}},
  {"data": {"values": [{}]}, "mark": {"type": "text", "text": "38.1225", "fontSize": 9, "align": "left", "baseline": "middle", "color": "#2a8c2a"}, "encoding": {"x": {"datum": 50.11}, "y": {"datum": 45.51}}},
  {"data": {"values": [{}]}, "mark": {"type": "text", "text": "40.2050", "fontSize": 9, "align": "left", "baseline": "middle", "color": "#ff1a1a"}, "encoding": {"x": {"datum": 59.14}, "y": {"datum": 45.51}}},
  {"data": {"values": [{}]}, "mark": {"type": "text", "text": "45.2280", "fontSize": 9, "align": "left", "baseline": "middle", "color": "#3d6fd6"}, "encoding": {"x": {"datum": 20.54}, "y": {"datum": 44.12}}},
  {"data": {"values": [{}]}, "mark": {"type": "rect", "color": "#9d00ff"}, "encoding": {"x": {"datum": 145.3}, "x2": {"datum": 151.24}, "y": {"datum": 31.14}, "y2": {"datum": 30.0}}},
  {"data": {"values": [{}]}, "mark": {"type": "rect", "color": "#e8141a"}, "encoding": {"x": {"datum": 145.3}, "x2": {"datum": 151.24}, "y": {"datum": 29.71}, "y2": {"datum": 28.67}}},
  {"data": {"values": [{}]}, "mark": {"type": "text", "text": "30.64", "fontSize": 9, "align": "center", "baseline": "middle", "color": "#ffffff"}, "encoding": {"x": {"datum": 148.3}, "y": {"datum": 30.57}}},
  {"data": {"values": [{}]}, "mark": {"type": "text", "text": "29.28", "fontSize": 9, "align": "center", "baseline": "middle", "color": "#ffffff"}, "encoding": {"x": {"datum": 148.3}, "y": {"datum": 29.19}}}
 ]
 },
 {
 "width": 668, "height": 104,
 "layer": [
  {"data": {"name": "hist"}, "mark": {"type": "bar", "width": 2, "color": "#1414ff"},
   "encoding": {
    "x": {"field": "i", "type": "quantitative", "scale": {"domain": [-5.643, 145.147], "nice": false, "zero": false}, "axis": {"values": [0,22,44,65,87,107,128,142], "labels": false, "ticks": false, "grid": true, "gridColor": "#ffffff", "gridOpacity": 0.85}},
    "y": {"field": "h", "type": "quantitative", "scale": {"domain": [-3.222, 1.684], "nice": false, "zero": false}, "axis": {"orient": "right", "values": [1,0,-1,-2,-3], "labels": false, "grid": true, "gridColor": "#ffffff", "gridDash": [2,2], "gridOpacity": 0.8}},
    "y2": {"datum": 0}}},
  {"data": {"name": "yt_macd"}, "mark": {"type": "text", "fontSize": 7.3, "align": "left", "baseline": "middle", "color": "#333333"},
   "encoding": {"x": {"datum": 146.5}, "y": {"field": "v", "type": "quantitative"}, "text": {"field": "v", "type": "quantitative", "format": ".4f"}}},
  {"data": {"name": "macd"}, "mark": {"type": "line", "color": "#1010ff", "strokeWidth": 2},
   "encoding": {"x": {"field": "i", "type": "quantitative"}, "y": {"field": "v", "type": "quantitative"}}},
  {"data": {"name": "signal"}, "mark": {"type": "line", "color": "#ff1a1a", "strokeWidth": 2},
   "encoding": {"x": {"field": "i", "type": "quantitative"}, "y": {"field": "v", "type": "quantitative"}}},
  {"data": {"values": [{}]}, "mark": {"type": "rule", "color": "#4d4d4d", "strokeWidth": 1.4}, "encoding": {"y": {"datum": -3.222}}},
  {"data": {"values": [{}]}, "mark": {"type": "rule", "color": "#5a5a5a", "strokeWidth": 1.2}, "encoding": {"x": {"datum": 145.147}}},
  {"data": {"values": [{}]}, "mark": {"type": "text", "text": "MACD (12, 26, close, 9, false, true)", "fontSize": 9, "align": "left", "baseline": "middle", "color": "#3c3c3c"}, "encoding": {"x": {"datum": -4.97}, "y": {"datum": 1.212}}},
  {"data": {"values": [{}]}, "mark": {"type": "text", "text": "-0.1910", "fontSize": 9, "align": "left", "baseline": "middle", "color": "#1414ff"}, "encoding": {"x": {"datum": 36.8}, "y": {"datum": 1.19}}},
  {"data": {"values": [{}]}, "mark": {"type": "text", "text": "-1.3188", "fontSize": 9, "align": "left", "baseline": "middle", "color": "#1414ff"}, "encoding": {"x": {"datum": 44.5}, "y": {"datum": 1.19}}},
  {"data": {"values": [{}]}, "mark": {"type": "text", "text": "-1.1278", "fontSize": 9, "align": "left", "baseline": "middle", "color": "#ff1a1a"}, "encoding": {"x": {"datum": 51.7}, "y": {"datum": 1.19}}}
 ]
 },
 {
 "width": 668, "height": 106,
 "layer": [
  {"data": {"values": [{}]}, "mark": {"type": "rect", "color": "#aa6eec", "opacity": 0.5},
   "encoding": {
    "x": {"datum": -5.643, "type": "quantitative", "scale": {"domain": [-5.643, 145.147], "nice": false, "zero": false},
     "axis": {"values": [0,22,44,65,87,107,128,142], "grid": true, "gridColor": "#ffffff", "gridOpacity": 0.85, "ticks": true, "tickSize": 3, "labelFontSize": 9.5, "labelPadding": 1,
      "labelFontWeight": {"condition": {"test": "datum.value == 87", "value": "bold"}, "value": "normal"},
      "labelExpr": "datum.value == 0 ? 'Sep' : datum.value == 22 ? 'Oct' : datum.value == 44 ? 'Nov' : datum.value == 65 ? 'Dec' : datum.value == 87 ? '2016' : datum.value == 107 ? 'Feb' : datum.value == 128 ? 'Mar' : '21'"}},
    "x2": {"datum": 145.147},
    "y": {"datum": 80, "type": "quantitative", "scale": {"domain": [-6.3, 105.3], "nice": false, "zero": false}, "axis": {"orient": "right", "values": [0,25,50,75,100], "labels": false, "grid": true, "gridColor": "#ffffff", "gridDash": [2,2], "gridOpacity": 0.8}},
    "y2": {"datum": 20}}},
  {"data": {"name": "yt_st"}, "mark": {"type": "text", "fontSize": 7.3, "align": "left", "baseline": "middle", "color": "#333333"},
   "encoding": {"x": {"datum": 146.5}, "y": {"field": "v", "type": "quantitative"}, "text": {"field": "v", "type": "quantitative", "format": ".4f"}}},
  {"data": {"values": [{}]}, "mark": {"type": "rule", "color": "#555555", "strokeDash": [2,2], "strokeWidth": 1}, "encoding": {"y": {"datum": 80}}},
  {"data": {"values": [{}]}, "mark": {"type": "rule", "color": "#555555", "strokeDash": [2,2], "strokeWidth": 1}, "encoding": {"y": {"datum": 20}}},
  {"data": {"name": "std"}, "mark": {"type": "line", "color": "#f55a23", "strokeWidth": 1.5},
   "encoding": {"x": {"field": "i", "type": "quantitative"}, "y": {"field": "v", "type": "quantitative"}}},
  {"data": {"name": "stk"}, "mark": {"type": "line", "color": "#2f9bff", "strokeWidth": 1.5},
   "encoding": {"x": {"field": "i", "type": "quantitative"}, "y": {"field": "v", "type": "quantitative"}}},
  {"data": {"values": [{}]}, "mark": {"type": "rule", "color": "#4d4d4d", "strokeWidth": 1.4}, "encoding": {"y": {"datum": -6.3}}},
  {"data": {"values": [{}]}, "mark": {"type": "rule", "color": "#5a5a5a", "strokeWidth": 1.2}, "encoding": {"x": {"datum": 145.147}}},
  {"data": {"values": [{}]}, "mark": {"type": "point", "filled": true, "color": "#ffffff", "opacity": 0.5, "size": 300}, "encoding": {"x": {"datum": 63.2}, "y": {"datum": 14}}},
  {"data": {"values": [{}]}, "mark": {"type": "point", "filled": true, "color": "#ffffff", "opacity": 0.5, "size": 300}, "encoding": {"x": {"datum": 68.4}, "y": {"datum": 14}}},
  {"data": {"values": [{}]}, "mark": {"type": "point", "filled": true, "color": "#ffffff", "opacity": 0.5, "size": 300}, "encoding": {"x": {"datum": 73.8}, "y": {"datum": 14}}},
  {"data": {"values": [{}]}, "mark": {"type": "point", "filled": true, "color": "#ffffff", "opacity": 0.5, "size": 300}, "encoding": {"x": {"datum": 79.2}, "y": {"datum": 14}}},
  {"data": {"values": [{}]}, "mark": {"type": "point", "filled": true, "color": "#ffffff", "opacity": 0.5, "size": 300}, "encoding": {"x": {"datum": 84.65}, "y": {"datum": 14}}},
  {"data": {"values": [{}]}, "mark": {"type": "text", "text": "‹", "fontSize": 13, "align": "center", "baseline": "middle", "color": "#a8a8a8"}, "encoding": {"x": {"datum": 63.2}, "y": {"datum": 14}}},
  {"data": {"values": [{}]}, "mark": {"type": "text", "text": "−", "fontSize": 12, "align": "center", "baseline": "middle", "color": "#a8a8a8"}, "encoding": {"x": {"datum": 68.4}, "y": {"datum": 14}}},
  {"data": {"values": [{}]}, "mark": {"type": "text", "text": "↻", "fontSize": 12, "align": "center", "baseline": "middle", "color": "#a8a8a8"}, "encoding": {"x": {"datum": 73.8}, "y": {"datum": 14}}},
  {"data": {"values": [{}]}, "mark": {"type": "text", "text": "+", "fontSize": 13, "align": "center", "baseline": "middle", "color": "#a8a8a8"}, "encoding": {"x": {"datum": 79.2}, "y": {"datum": 14}}},
  {"data": {"values": [{}]}, "mark": {"type": "text", "text": "›", "fontSize": 13, "align": "center", "baseline": "middle", "color": "#a8a8a8"}, "encoding": {"x": {"datum": 84.65}, "y": {"datum": 14}}},
  {"data": {"values": [{}]}, "mark": {"type": "text", "text": "Stoch RSI (3, 3, 21, 21, close)", "fontSize": 9, "align": "left", "baseline": "middle", "color": "#3c3c3c"}, "encoding": {"x": {"datum": -4.97}, "y": {"datum": 92.6}}},
  {"data": {"values": [{}]}, "mark": {"type": "text", "text": "64.8298", "fontSize": 9, "align": "left", "baseline": "middle", "color": "#2f9bff"}, "encoding": {"x": {"datum": 32.3}, "y": {"datum": 92.6}}},
  {"data": {"values": [{}]}, "mark": {"type": "text", "text": "57.5692", "fontSize": 9, "align": "left", "baseline": "middle", "color": "#ff7a1a"}, "encoding": {"x": {"datum": 40.2}, "y": {"datum": 92.6}}}
 ]
 }
]
}
